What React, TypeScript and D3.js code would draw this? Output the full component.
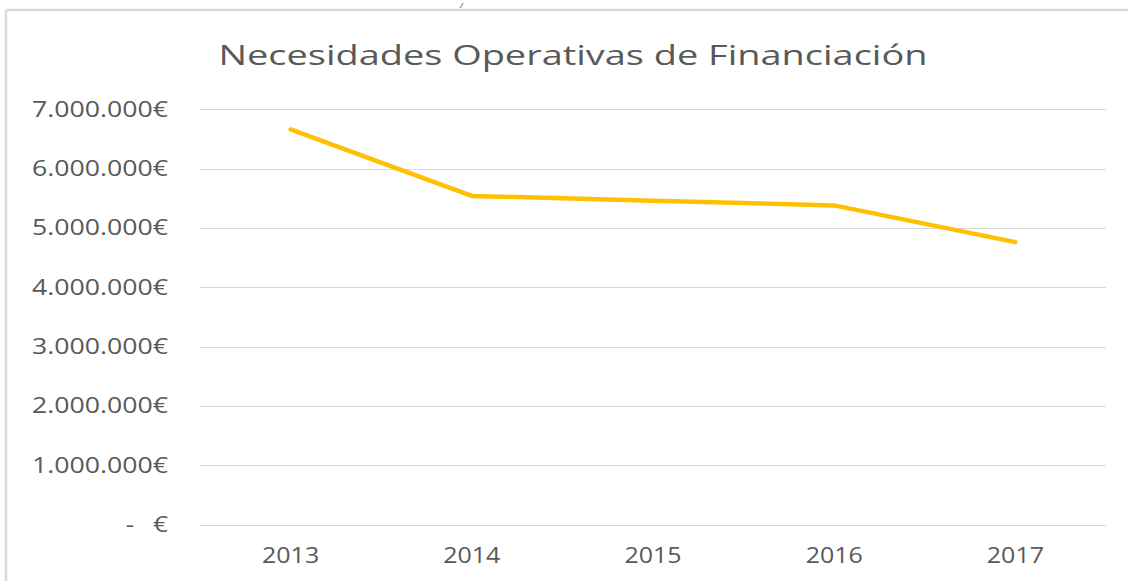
import React from "react";
import * as d3 from "d3";

const years = ["2013", "2014", "2015", "2016", "2017"];
const values = [6660000, 5540000, 5460000, 5380000, 4760000];
const yTicks = [0, 1000000, 2000000, 3000000, 4000000, 5000000, 6000000, 7000000];
const title = "Necesidades Operativas de Financiación";

const W = 1128;
const H = 581;
const FONT = "'Open Sans', 'Noto Sans', sans-serif";
const GREY = "#595959";

function SText(props: {
  x: number;
  y: number;
  sx: number;
  size: number;
  anchor: "start" | "middle" | "end";
  children: React.ReactNode;
}) {
  return (
    <text
      transform={`translate(${props.x},${props.y}) scale(${props.sx},1)`}
      textAnchor={props.anchor}
      fontFamily={FONT}
      fontSize={props.size}
      fill={GREY}
    >
      {props.children}
    </text>
  );
}

export default function App() {
  const x = d3.scaleBand<string>().domain(years).range([200, 1106]).padding(0);
  const y = d3.scaleLinear().domain([0, 7000000]).range([524.5, 109.3]);
  const line = d3
    .line<number>()
    .x((_, i) => (x(years[i]) as number) + x.bandwidth() / 2)
    .y((d) => y(d));

  const fmt = (v: number) => d3.format(",")(v).replace(/,/g, ".") + "€";

  return (
    <svg
      width={W}
      height={H}
      style={{ position: "absolute", left: 0, top: 0, background: "#fff" }}
    >
      <rect x={0} y={0} width={W} height={H} fill="#fff" />
      {/* glyph of text above the chart */}
      <text x={460} y={8} fontFamily={FONT} fontStyle="italic" fontSize={8} fill="#222">/</text>
      {/* chart border */}
      <line x1={6} x2={W} y1={10} y2={10} stroke="#d9d9d9" strokeWidth={2.5} />
      <line x1={6} x2={6} y1={10} y2={H} stroke="#d9d9d9" strokeWidth={2.5} />

      <SText x={573} y={65} sx={1.355} size={28} anchor="middle">
        {title}
      </SText>

      {yTicks.map((t) => (
        <g key={t}>
          <line
            x1={200}
            x2={1106}
            y1={Math.round(y(t)) + 0.5}
            y2={Math.round(y(t)) + 0.5}
            stroke="#d9d9d9"
            strokeWidth={1}
          />
          {t === 0 ? (
            <>
              <SText x={130} y={y(t) + 7.5} sx={1.25} size={21} anchor="middle">-</SText>
              <SText x={168} y={y(t) + 7.5} sx={1.25} size={21} anchor="end">€</SText>
            </>
          ) : (
            <SText x={168} y={y(t) + 7.5} sx={1.27} size={21} anchor="end">
              {fmt(t)}
            </SText>
          )}
        </g>
      ))}

      {years.map((yr) => (
        <SText
          key={yr}
          x={(x(yr) as number) + x.bandwidth() / 2}
          y={563}
          sx={1.19}
          size={21}
          anchor="middle"
        >
          {yr}
        </SText>
      ))}

      <path
        d={line(values) || ""}
        fill="none"
        stroke="#ffc000"
        strokeWidth={4.5}
        strokeLinecap="round"
        strokeLinejoin="round"
      />
    </svg>
  );
}
